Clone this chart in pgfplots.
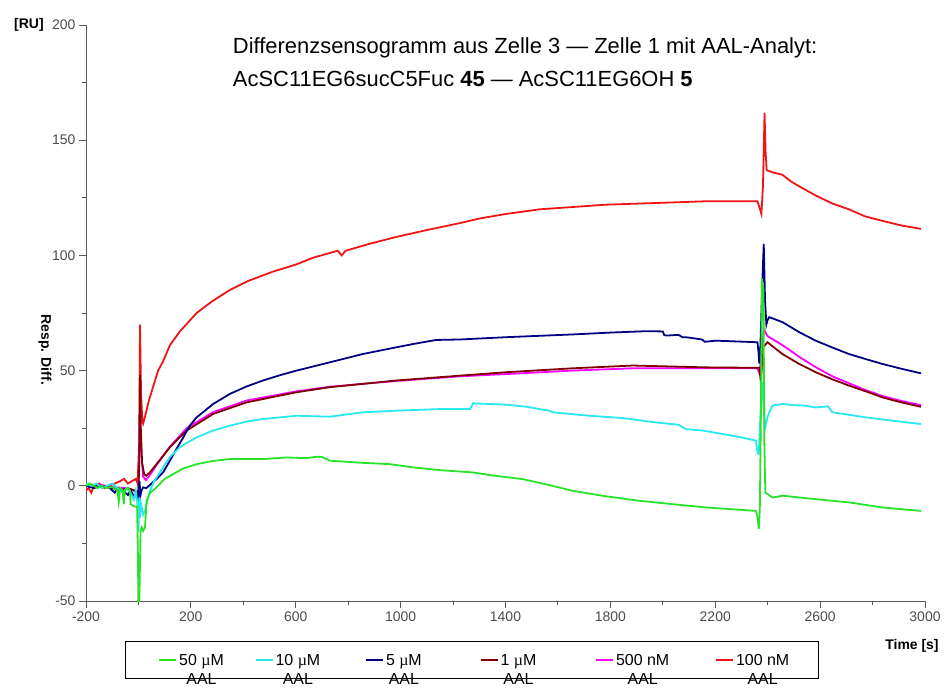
\documentclass[border=0pt]{standalone}
\usepackage{fontspec}
\setmainfont{Liberation Sans}
\newfontfamily\serifmu{Liberation Serif}
\usepackage{pgfplots}
\pgfplotsset{compat=1.18}

\definecolor{cgreen}{RGB}{40,228,40}
\definecolor{ccyan}{RGB}{40,232,240}
\definecolor{cnavy}{RGB}{0,0,128}
\definecolor{cdred}{RGB}{128,0,0}
\definecolor{cmag}{RGB}{255,0,255}
\definecolor{cred}{RGB}{240,20,20}

\newcommand{\ent}[2]{\begin{tabular}[t]{@{}c@{}}#1\\AAL\end{tabular}\hspace*{#2}}

\begin{document}
\begin{tikzpicture}
\begin{axis}[
    name=ax,
    scale only axis,
    width=839bp, height=576bp,
    xmin=-200, xmax=3000,
    ymin=-50, ymax=200,
    axis lines*=left,
    clip mode=individual,
    xtick={-200,200,...,3000},
    minor xtick={0,400,...,2800},
    ytick={-50,0,...,200},
    minor ytick={-25,25,...,175},
    tick align=outside,
    major tick length=7bp,
    minor tick length=4bp,
    axis line style={black!65, line width=0.9pt},
    tick style={black!65, line width=0.9pt},
    tick label style={font=\fontsize{14}{16}\selectfont, text=black!70},
    /pgf/number format/assume math mode=true,
    /pgf/number format/1000 sep={},
    legend columns=6,
    legend style={
        at={(axis description cs:0.0465,-0.0694)}, anchor=north west,
        draw=black, line width=0.8pt,
        font=\fontsize{16}{19}\selectfont,
        inner xsep=33bp, inner ysep=9bp,
        /tikz/every odd column/.append style={column sep=0bp},
        /tikz/every even column/.append style={column sep=14bp},
    },
]

% legend in the order of the reference
\addlegendimage{cgreen, line width=1.8pt}
\addlegendentry{\ent{50 {\serifmu µ}M}{15bp}}
\addlegendimage{ccyan, line width=1.8pt}
\addlegendentry{\ent{10 {\serifmu µ}M}{29bp}}
\addlegendimage{cnavy, line width=1.8pt}
\addlegendentry{\ent{5 {\serifmu µ}M}{42bp}}
\addlegendimage{cdred, line width=1.8pt}
\addlegendentry{\ent{1 {\serifmu µ}M}{43bp}}
\addlegendimage{cmag, line width=1.8pt}
\addlegendentry{\ent{500 nM}{30bp}}
\addlegendimage{cred, line width=1.8pt}
\addlegendentry{\ent{100 nM}{-6bp}}

% 100 nM
\addplot[cred, line width=1.8pt, forget plot] coordinates {
(-200,-2) (-190,-1) (-180,-3) (-170,0) (-150,1) (-130,-1) (-110,0) (-90,1) (-70,2) (-55,3) (-40,1) (-25,2) (-10,3) (-3,1)
(3,20) (6,70) (10,40) (15,28) (18,27) (25,30) (40,37) (56,43) (75,50) (94,54) (120,61) (158,67) (190,71) (222,75)
(280,80) (349,85) (420,89) (514,93) (600,96) (666,99) (760,102) (775,100) (790,102) (880,105) (983,108) (1100,111)
(1225,114) (1300,116) (1403,118) (1530,120) (1657,121) (1780,122) (1910,122.5) (2040,123) (2165,123.5) (2280,123.5)
(2361,123.5) (2368,121) (2376,118) (2382,130) (2388,162) (2392,145) (2396,137) (2420,136) (2456,135) (2490,132)
(2520,130) (2583,126) (2647,122.5) (2710,120) (2770,117) (2837,115) (2910,113) (2985,111.5)
};

% 500 nM
\addplot[cmag, line width=1.8pt, forget plot] coordinates {
(-200,0) (-150,0.5) (-100,-0.5) (-50,-1) (-20,-2) (-5,-3) (0,-4) (3,20) (6,35) (10,15) (18,4) (28,2.5) (40,4)
(69,9) (120,17) (184,25) (285,32) (412,37) (603,41) (730,43) (983,45.5) (1225,47.5) (1403,48.5) (1657,50)
(1885,51) (2165,51) (2360,51) (2368,49) (2375,55) (2385,68) (2399,65) (2457,61) (2520,56) (2583,51.5)
(2647,47.5) (2710,44.5) (2774,41.5) (2837,39) (2910,36.8) (2985,35)
};

% 1 uM
\addplot[cdred, line width=1.8pt, forget plot] coordinates {
(-200,0) (-150,0) (-100,-1) (-70,-2) (-40,-1) (-15,-2) (0,-3) (3,10) (6,48) (9,25) (14,10) (22,5) (30,4.3)
(45,6) (69,9.4) (120,16.7) (184,24) (285,31.2) (412,36.2) (603,40.6) (730,42.8) (983,45.7) (1225,47.8)
(1403,49.3) (1657,51) (1885,52.2) (2165,51.4) (2368,51.2) (2374,45) (2382,60) (2399,62.3) (2456,57.2)
(2520,52.9) (2583,49.3) (2647,46.2) (2710,43.5) (2774,41) (2837,38.4) (2910,36.2) (2985,34.3)
};

% 5 uM
\addplot[cnavy, line width=1.8pt, forget plot] coordinates {
(-200,0) (-170,-1) (-140,0) (-110,-1) (-90,-3) (-80,-1) (-60,-2) (-40,-4) (-30,-2) (-15,-5) (-5,-3) (0,-6)
(4,2) (8,-4) (12,-2) (18,-0.7) (30,-1) (45,0.5) (69,2.9) (95,6) (120,10.9) (145,16) (171,21) (195,26)
(222,29.7) (285,35.5) (349,39.9) (410,43) (475,45.7) (540,48) (603,50) (730,53.6) (856,57.2) (983,60.1)
(1060,61.8) (1136,63.3) (1225,63.5) (1403,64.5) (1657,65.7) (1800,66.5) (1936,67.1) (2000,67) (2005,65.5)
(2012,65.2) (2060,65.5) (2075,64.5) (2088,64.5) (2150,63.5) (2160,62.5) (2202,63) (2361,62.3) (2365,58)
(2368,53) (2372,60) (2380,90) (2385,105) (2390,80) (2395,70) (2400,72) (2406,73.2) (2457,71) (2520,66.7)
(2583,63) (2647,60) (2710,57.2) (2774,55) (2837,52.9) (2910,50.8) (2985,48.8)
};

% 10 uM
\addplot[ccyan, line width=1.8pt, forget plot] coordinates {
(-200,1) (-180,0) (-160,1) (-140,-1) (-120,0) (-100,1) (-80,-1) (-60,-3) (-45,-1) (-30,-3) (-18,-6) (-10,-2)
(-4,-8) (0,-20) (3,-5) (6,-14) (10,-8) (18,-12.5) (25,-11) (35,-6) (44,-2.2) (60,2) (94,8) (120,12.5)
(158,16.7) (190,19) (222,21) (285,24) (349,26.1) (410,27.8) (475,29) (603,30.4) (730,30) (856,31.9)
(983,32.6) (1149,33.3) (1265,33.3) (1276,35.8) (1403,35.2) (1480,34.3) (1530,33.3) (1570,32.5) (1580,31.9)
(1720,30.4) (1847,29.4) (1974,27.5) (2060,26.5) (2088,24.6) (2150,24) (2228,22.5) (2300,21) (2355,19.6)
(2362,14) (2366,13.8) (2370,25) (2378,45) (2384,35) (2390,25) (2399,29.7) (2410,33) (2418,34.8) (2457,35.5)
(2500,35) (2540,34.8) (2583,34) (2630,34.5) (2640,33) (2647,31.9) (2774,29.7) (2880,28.2) (2985,26.8)
};

% 50 uM
\addplot[cgreen, line width=1.8pt, forget plot] coordinates {
(-200,0) (-185,1) (-170,0) (-155,-1) (-140,0) (-120,-1) (-100,-0.5) (-80,-2) (-75,-7) (-70,-1) (-60,-2)
(-56,-8) (-52,-2) (-40,-1) (-32,-2) (-30,-8) (-15,-9) (-5,-9) (-2,-30) (0,-52) (3,-52) (5,-40) (8,-20)
(12,-18) (18,-19.6) (25,-18) (31,-6.5) (45,-3) (69,-0.7) (100,3) (133,5.1) (170,7.5) (222,9.4) (285,10.8)
(349,11.6) (475,11.6) (565,12.3) (640,12) (679,12.6) (700,12.5) (730,10.9) (850,10) (958,9.4) (1047,8)
(1149,6.8) (1276,5.8) (1350,4.5) (1466,2.9) (1560,0.5) (1657,-2.2) (1780,-4.5) (1910,-6.5) (2040,-8)
(2165,-9.4) (2280,-10.3) (2355,-10.9) (2362,-14) (2366,-18.8) (2370,-10) (2374,30) (2378,90) (2384,85)
(2387,20) (2391,-2.9) (2405,-4) (2418,-5.1) (2457,-4.3) (2583,-5.8) (2710,-7.2) (2837,-9.4) (2985,-10.9)
};

% title and labels
\node[anchor=base west, font=\fontsize{22}{24}\selectfont] at (axis description cs:0.1710,0.951)
    {Differenzsensogramm aus Zelle 3 — Zelle 1 mit AAL-Analyt:};
\node[anchor=base west, font=\fontsize{22}{24}\selectfont] at (axis description cs:0.1710,0.894)
    {AcSC11EG6sucC5Fuc \textbf{45} — AcSC11EG6OH \textbf{5}};
\node[font=\bfseries\fontsize{14}{16}\selectfont] at (axis description cs:-0.068,1.0) {[RU]};
\node[rotate=-90, font=\bfseries\fontsize{14}{16}\selectfont] at (axis description cs:-0.049,0.436) {Resp. Diff.};
\node[font=\bfseries\fontsize{14}{16}\selectfont] at (axis description cs:0.9845,-0.078) {Time [s]};
\end{axis}
\pgfresetboundingbox
\path[use as bounding box] ([shift={(-86bp,-90bp)}]ax.south west) rectangle ([shift={(27bp,25bp)}]ax.north east);
\end{tikzpicture}
\end{document}
